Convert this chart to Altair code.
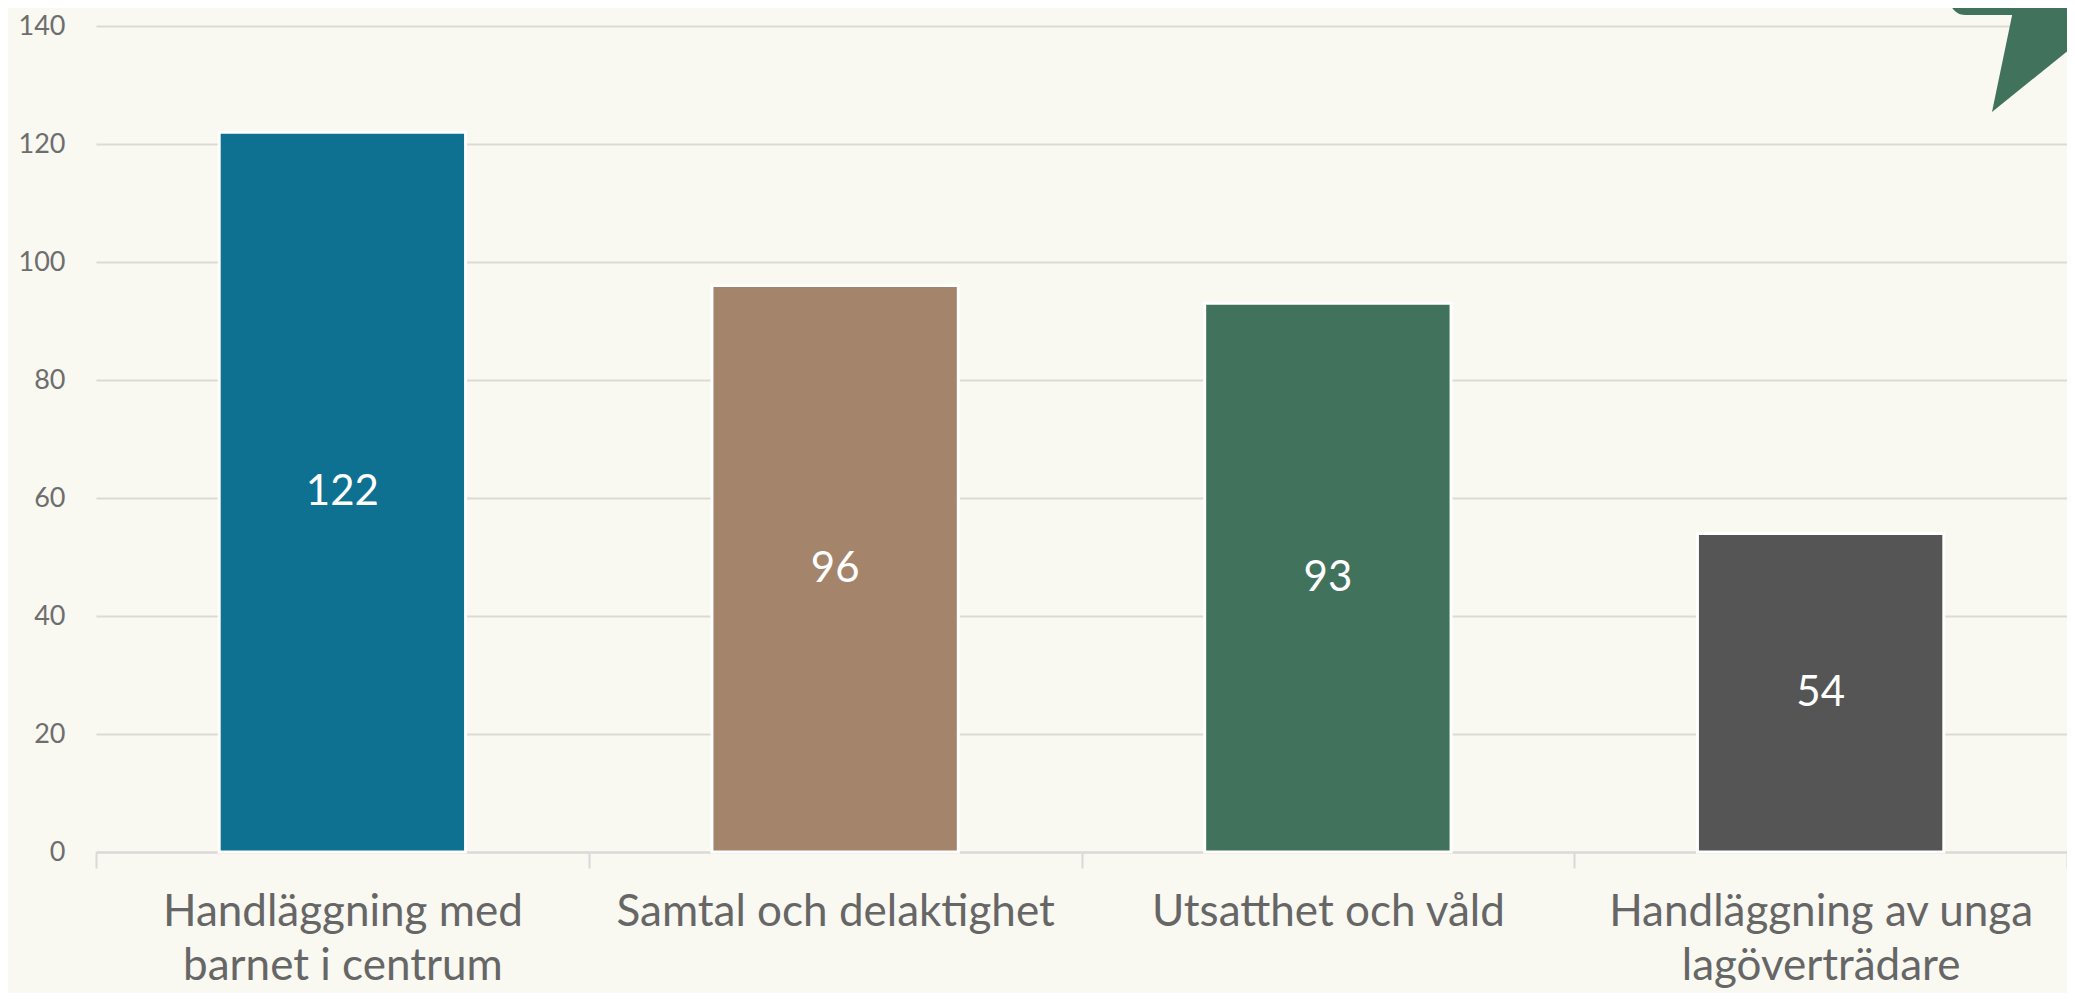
import altair as alt
import pandas as pd

categories = [
    "Handläggning med\nbarnet i centrum",
    "Samtal och delaktighet",
    "Utsatthet och våld",
    "Handläggning av unga\nlagöverträdare",
]
values = [122, 96, 93, 54]
bar_colors = ["#0e7191", "#a4846b", "#41725b", "#555555"]
y_ticks = [0, 20, 40, 60, 80, 100, 120, 140]

df = pd.DataFrame({"kategori": categories, "antal": values})

W, H = 1971, 826
FONT = "Lato"

x_enc = alt.X(
    "kategori:N",
    sort=None,
    title=None,
    scale=alt.Scale(paddingInner=0, paddingOuter=0),
    axis=alt.Axis(
        labelAngle=0,
        labelExpr="split(datum.label, '\\n')",
        labelFont=FONT,
        labelFontSize=44,
        labelColor="#666666",
        labelLineHeight=54,
        labelPadding=22,
        labelLimit=900,
        labelBaseline="top",
        tickBand="extent",
        tickSize=16,
        tickColor="#d9d9d9",
        tickWidth=2,
        domainColor="#d9d9d9",
        domainWidth=2,
        grid=False,
    ),
)

y_enc = alt.Y(
    "antal:Q",
    scale=alt.Scale(domain=[0, 140], nice=False),
    axis=alt.Axis(
        values=y_ticks,
        title=None,
        domain=False,
        ticks=False,
        labelFont=FONT,
        labelFontSize=27,
        labelColor="#6e6e6e",
        labelPadding=31,
        gridColor="#dddad3",
        gridWidth=2,
    ),
)

base = alt.Chart(df)

bars = base.mark_bar(
    stroke="white", strokeWidth=3, width=alt.RelativeBandSize(0.5)
).encode(
    x=x_enc,
    y=y_enc,
    color=alt.Color("kategori:N", scale=alt.Scale(domain=categories, range=bar_colors), legend=None),
)

labels = base.transform_calculate(mid="datum.antal / 2").mark_text(
    font=FONT, fontSize=42, color="white"
).encode(
    x=alt.X("kategori:N", sort=None),
    y=alt.Y("mid:Q"),
    text=alt.Text("antal:Q"),
)

# decorative speech-bubble ornament in the top-right corner
deco_df = pd.DataFrame({"d": [0]})
deco_rect = alt.Chart(deco_df).mark_rect(color="#41725b", cornerRadius=15).encode(
    x=alt.value(1854), x2=alt.value(2010), y=alt.value(-60), y2=alt.value(-11)
)
deco_tail = alt.Chart(deco_df).mark_point(
    shape="M-0.517,-0.833 L-0.867,0.85 L0.867,-0.55 L0.867,-0.833 Z",
    filled=True,
    size=14400,
    color="#41725b",
    opacity=1,
    strokeWidth=0,
).encode(x=alt.value(1948), y=alt.value(35))

chart = alt.layer(bars, labels, deco_rect, deco_tail).properties(
    width=W,
    height=H,
    background="#f9f8f1",
    padding={"left": 88, "top": 18, "right": 0, "bottom": 141},
    autosize=alt.AutoSizeParams(type="none"),
).configure_view(stroke=None)

chart.save("out.html", embed_options={"renderer": "svg", "actions": False})
